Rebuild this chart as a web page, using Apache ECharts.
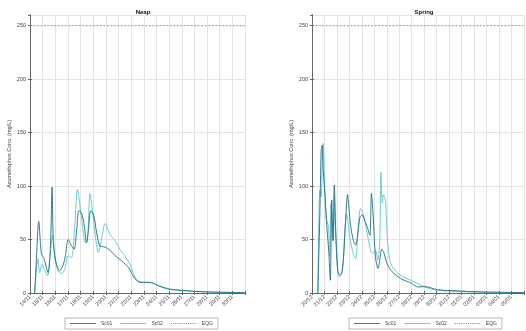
<!DOCTYPE html>
<html>
<head>
<meta charset="utf-8">
<script src="https://cdn.jsdelivr.net/npm/echarts@6/dist/echarts.min.js"></script>
<style>
html, body { margin: 0; padding: 0; background: #fff; }
#chart { width: 526px; height: 331px; }
</style>
</head>
<body>
<div id="chart"></div>
<script>
// tick labels (one per day)
const neapLabels = ['14/11', '15/11', '16/11', '17/11', '18/11', '19/11', '20/11', '21/11', '22/11',
  '23/11', '24/11', '25/11', '26/11', '27/11', '28/11', '29/11', '30/11']
const springLabels = ['20/12', '21/12', '22/12', '23/12', '24/12', '25/12', '26/12', '27/12', '28/12',
  '29/12', '30/12', '31/12', '01/01', '02/01', '03/01', '04/01', '05/01']
const seriesNames = ['Sc01', 'Sc02', 'EQG']
const eqgValue = 250

// neap: time (days from first tick) and concentration (mg/L)
const neapT1 = [0.37, 0.5, 0.69, 0.9, 1.11, 1.43, 1.62, 1.75, 1.85, 2.09, 2.35, 2.62, 2.8, 3.02, 3.28, 3.49, 3.7,
  3.86, 4.07, 4.29, 4.47, 4.6, 4.81, 5.05, 5.26, 5.53, 5.93, 6.32, 6.72, 7.25, 7.78, 8.1, 8.4, 8.7,
  9.6, 10.2, 11, 12.4, 14, 16, 17]
const neapSc01 = [0, 30, 67, 37, 32, 19, 45, 99, 47, 27, 21, 26, 35, 50, 44, 41, 60,
  77, 75, 63, 47, 57, 77, 72, 57, 44, 43, 40, 35, 30, 24, 17, 12, 10,
  9.5, 6.5, 3.5, 2, 1, 0.5, 0.3]
const neapT2 = [0.37, 0.63, 0.77, 0.95, 1.16, 1.38, 1.56, 1.8, 1.96, 2.22, 2.49, 2.75, 3.02, 3.28, 3.54, 3.76,
  4.02, 4.39, 4.55, 4.74, 4.92, 5.13, 5.4, 5.71, 5.93, 6.32, 6.85, 7.14, 7.5, 7.9, 8.2, 8.4, 8.7,
  9.6, 10.2, 11, 12.4, 14, 16, 17]
const neapSc02 = [0, 32, 19, 27, 21, 16, 32, 54, 32, 21, 18, 22, 35, 33, 63, 97,
  75, 47, 50, 93, 79, 57, 38, 54, 65, 55, 47, 40, 35, 27, 18, 13, 10.5,
  10, 7, 4, 2.2, 1, 0.5, 0.3]

// spring
const springT1 = [0.47, 0.63, 0.74, 0.82, 0.9, 1.05, 1.21, 1.34, 1.47, 1.58, 1.69, 1.79, 1.9, 2.06, 2.21, 2.37,
  2.53, 2.71, 2.85, 2.95, 3.11, 3.32, 3.5, 3.64, 3.85, 4.03, 4.22, 4.43, 4.64, 4.77, 4.9, 5.09,
  5.3, 5.45, 5.6, 5.75, 6.03, 6.42, 7.2, 8.0, 8.5, 9.05, 10.1, 11.7, 13, 16, 17]
const springSc01 = [0, 74, 134, 138, 115, 90, 59, 40, 12, 87, 49, 101, 59, 21, 17, 18,
  34, 71, 92, 81, 62, 49, 45, 52, 71, 73, 68, 62, 54, 93, 74, 34,
  23, 32, 41, 38, 27.5, 20, 13, 9, 5.6, 6, 3, 2, 1.2, 0.5, 0.4]
const springT2 = [0.47, 0.63, 0.74, 0.82, 0.9, 1.0, 1.13, 1.32, 1.42, 1.53, 1.66, 1.74, 1.79, 1.9, 2.06, 2.21,
  2.45, 2.64, 2.79, 2.98, 3.24, 3.5, 3.69, 3.9, 4.11, 4.37, 4.64, 4.82, 5.09, 5.27, 5.43, 5.53,
  5.64, 5.74, 5.9, 5.97, 6.1, 6.3, 6.95, 8.26, 9.05, 10.1, 11.7, 14, 17]
const springSc02 = [0, 96, 90, 121, 140, 106, 71, 62, 34, 84, 49, 59, 90, 56, 21, 15,
  21, 59, 74, 56, 40, 32, 59, 79, 74, 59, 43, 37, 40, 31, 46, 113,
  84, 92, 85, 68, 45, 28, 18, 10, 5.6, 2.5, 1.5, 0.7, 0.4]

const colors = ['#1f6e86', '#5ec6cc', '#e4666c']
const font = 'Liberation Sans, Arial, sans-serif'

// legend line samples (solid, solid, dotted)
const solidIcon = 'path://M0,0L30,0L30,1L0,1Z'
const dottedIcon = 'path://' + Array.from({ length: 12 }, (_, i) => {
  const x = i * 2.5
  return 'M' + x + ',0L' + (x + 1.3) + ',0L' + (x + 1.3) + ',1L' + x + ',1Z'
}).join(' ') + ' M29.9,0L30,0L30,1L29.9,1Z'

function pairs (t, v) {
  return t.map((x, i) => [x, v[i]])
}

let chart = echarts.init(document.getElementById('chart'))

const grids = [
  { left: 30, right: 281, top: 15, bottom: 38 },
  { left: 312, right: 1, top: 15, bottom: 38 }
]
const titles = ['Neap', 'Spring']
const tickLabels = [neapLabels, springLabels]
const data = [
  [pairs(neapT1, neapSc01), pairs(neapT2, neapSc02)],
  [pairs(springT1, springSc01), pairs(springT2, springSc02)]
]

let xAxes = []
let yAxes = []
let series = []
let titleList = []
let legends = []

for (let g = 0; g < 2; g++) {
  const labels = tickLabels[g]
  // bottom x axis
  xAxes.push({
    type: 'value', gridIndex: g, min: 0, max: 17, interval: 1,
    axisLine: { lineStyle: { color: '#666', width: 1 } },
    axisTick: { inside: true, length: 2, lineStyle: { color: '#666' } },
    axisLabel: {
      rotate: 45, fontSize: 5.5, color: '#444', fontFamily: font, margin: 3,
      formatter: (v) => labels[Math.round(v)] || ''
    },
    splitLine: { show: true, lineStyle: { color: '#e4e4e4', width: 1 } }
  })
  // top x axis (box)
  xAxes.push({
    type: 'value', gridIndex: g, position: 'top', min: 0, max: 17, interval: 1,
    axisLine: { lineStyle: { color: '#666', width: 1 } },
    axisTick: { inside: true, length: 2, lineStyle: { color: '#666' } },
    axisLabel: { show: false },
    splitLine: { show: false }
  })
  yAxes.push({
    type: 'value', gridIndex: g, min: 0, max: 260, interval: 50,
    name: 'Azamethiphos Conc. (mg/L)', nameLocation: 'middle', nameGap: 18,
    nameTextStyle: { fontSize: 5.5, color: '#444', fontFamily: font },
    axisLine: { show: true, lineStyle: { color: '#666', width: 1 } },
    axisTick: { show: true, inside: true, length: 2, lineStyle: { color: '#666' } },
    axisLabel: { fontSize: 5.5, color: '#444', fontFamily: font, margin: 4, showMaxLabel: false },
    splitLine: { show: true, lineStyle: { color: '#e4e4e4', width: 1 } }
  })
  yAxes.push({
    type: 'value', gridIndex: g, position: 'right', min: 0, max: 260, interval: 50,
    axisLine: { show: true, lineStyle: { color: '#666', width: 1 } },
    axisTick: { show: true, inside: true, length: 2, lineStyle: { color: '#666' } },
    axisLabel: { show: false },
    splitLine: { show: false }
  })

  const xi = g * 2
  const yi = g * 2
  series.push({
    name: seriesNames[0], type: 'line', xAxisIndex: xi, yAxisIndex: yi,
    data: data[g][0], symbol: 'none', smooth: 0.3,
    lineStyle: { color: colors[0], width: 0.9 }, itemStyle: { color: colors[0] }, z: 3
  })
  series.push({
    name: seriesNames[1], type: 'line', xAxisIndex: xi, yAxisIndex: yi,
    data: data[g][1], symbol: 'none', smooth: 0.3,
    lineStyle: { color: colors[1], width: 0.9 }, itemStyle: { color: colors[1] }, z: 2
  })
  series.push({
    name: seriesNames[2], type: 'line', xAxisIndex: xi, yAxisIndex: yi,
    data: [[0, eqgValue], [17, eqgValue]], symbol: 'none', z: 4,
    lineStyle: { color: colors[2], width: 0.9, type: [1.5, 2] }, itemStyle: { color: colors[2] }
  })

  titleList.push({
    text: titles[g],
    left: g === 0 ? 138 : 419, top: 4, textAlign: 'center',
    textStyle: { fontSize: 6, fontWeight: 'bold', color: '#111', fontFamily: font }
  })
  legends.push({
    data: [
      { name: seriesNames[0], icon: solidIcon, itemStyle: { color: colors[0] } },
      { name: seriesNames[1], icon: solidIcon, itemStyle: { color: colors[1] } },
      { name: seriesNames[2], icon: dottedIcon, itemStyle: { color: colors[2] } }
    ],
    left: g === 0 ? 65 : 349, top: 318,
    orient: 'horizontal',
    itemWidth: 26, itemHeight: 1.2, itemGap: 8,
    padding: [3, 5, 3, 5],
    borderColor: '#888', borderWidth: 0.6,
    textStyle: { fontSize: 5, color: '#444', fontFamily: font },
    selectedMode: false
  })
}

chart.setOption({
  animation: false,
  backgroundColor: '#fff',
  title: titleList,
  legend: legends,
  grid: grids,
  xAxis: xAxes,
  yAxis: yAxes,
  series: series
})
</script>
</body>
</html>
